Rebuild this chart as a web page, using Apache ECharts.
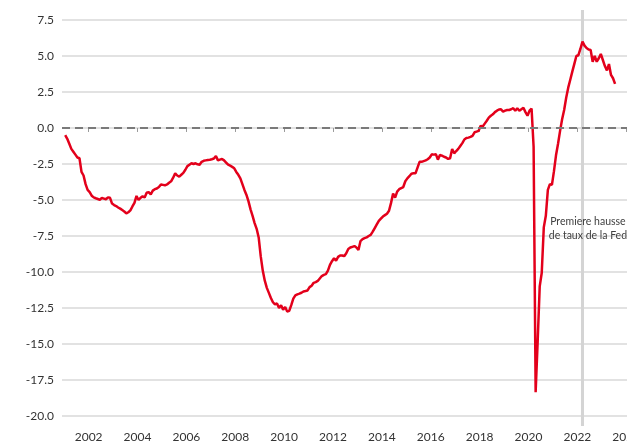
<!DOCTYPE html>
<html><head><meta charset="utf-8">
<script src="https://cdn.jsdelivr.net/npm/echarts@6/dist/echarts.min.js"></script>
<style>html,body{margin:0;padding:0;background:#fff}#c{width:627px;height:444px}</style>
</head><body><div id="c"></div>
<script>
// Monthly values, first point = January 2001
const startYear = 2001;
const y2001 = [-0.5, -0.75, -1.1, -1.45, -1.65, -1.85, -2.05, -2.1, -3.05, -3.3, -3.9, -4.3];
const y2002 = [-4.45, -4.7, -4.82, -4.88, -4.93, -4.98, -4.85, -4.9, -4.95, -4.82, -4.85, -5.25];
const y2003 = [-5.35, -5.42, -5.52, -5.6, -5.7, -5.8, -5.93, -5.85, -5.72, -5.45, -5.2, -4.72];
const y2004 = [-5.0, -4.85, -4.75, -4.82, -4.5, -4.45, -4.62, -4.35, -4.25, -4.2, -4.1, -3.92];
const y2005 = [-3.95, -3.98, -3.92, -3.8, -3.7, -3.45, -3.15, -3.3, -3.38, -3.25, -3.12, -2.9];
const y2006 = [-2.65, -2.55, -2.45, -2.5, -2.45, -2.52, -2.55, -2.35, -2.28, -2.25, -2.22, -2.2];
const y2007 = [-2.17, -2.12, -1.95, -2.25, -2.2, -2.15, -2.25, -2.4, -2.55, -2.62, -2.7, -2.8];
const y2008 = [-3.05, -3.25, -3.5, -3.9, -4.3, -4.65, -5.1, -5.65, -6.1, -6.6, -7.0, -7.6];
const y2009 = [-8.9, -9.9, -10.6, -11.1, -11.45, -11.8, -12.1, -12.25, -12.18, -12.5, -12.3, -12.62];
const y2010 = [-12.42, -12.75, -12.7, -12.3, -11.85, -11.62, -11.55, -11.5, -11.44, -11.35, -11.32, -11.28];
const y2011 = [-11.05, -10.95, -10.75, -10.7, -10.62, -10.45, -10.28, -10.2, -10.15, -9.9, -9.5, -9.25];
const y2012 = [-9.05, -9.22, -8.95, -8.85, -8.85, -8.9, -8.7, -8.4, -8.3, -8.25, -8.2, -8.3];
const y2013 = [-8.47, -7.85, -7.72, -7.65, -7.6, -7.5, -7.42, -7.2, -6.95, -6.7, -6.45, -6.3];
const y2014 = [-6.15, -6.05, -5.95, -5.75, -5.2, -4.55, -4.84, -4.42, -4.25, -4.17, -4.1, -3.7];
const y2015 = [-3.5, -3.35, -3.18, -3.15, -3.15, -2.75, -2.35, -2.35, -2.3, -2.25, -2.17, -2.05];
const y2016 = [-1.83, -1.85, -1.82, -2.2, -1.88, -1.92, -2.0, -2.05, -2.15, -2.1, -1.46, -1.76];
const y2017 = [-1.6, -1.45, -1.25, -1.05, -0.8, -0.7, -0.67, -0.62, -0.55, -0.3, -0.25, -0.2];
const y2018 = [0.15, 0.1, 0.3, 0.5, 0.72, 0.85, 0.95, 1.1, 1.2, 1.28, 1.3, 1.13];
const y2019 = [1.2, 1.25, 1.25, 1.3, 1.37, 1.2, 1.37, 1.2, 1.3, 1.4, 1.1, 0.85];
const y2020 = [1.2, 1.35, -1.3, -18.35, -14.8, -11.0, -10.05, -6.9, -6.1, -4.3, -3.9, -3.95];
const y2021 = [-3.0, -1.9, -1.1, -0.2, 0.6, 1.25, 2.1, 2.8, 3.35, 3.91, 4.45, 5.0];
const y2022 = [5.05, 5.5, 6.0, 5.72, 5.55, 5.45, 5.42, 4.6, 5.0, 4.6, 4.84, 5.14];
const y2023 = [4.72, 4.3, 4.0, 4.44, 3.68, 3.45, 3.06];

const xTicks = [2002, 2004, 2006, 2008, 2010, 2012, 2014, 2016, 2018, 2020, 2022, 2024];
const yTicks = [-20, -17.5, -15, -12.5, -10, -7.5, -5, -2.5, 0, 2.5, 5, 7.5];
const fedHikeDate = 2022 + 2.5 / 12; // March 2022
const fedLabel = 'Premiere hausse\nde taux de la Fed';

const values = [].concat(y2001, y2002, y2003, y2004, y2005, y2006, y2007, y2008, y2009, y2010,
  y2011, y2012, y2013, y2014, y2015, y2016, y2017, y2018, y2019, y2020, y2021, y2022, y2023);
const points = values.map((v, i) => [startYear + (i + 0.5) / 12, v]);

const X_MIN = 2000.91, X_MAX = 2024.03, Y_MIN = -20.69, Y_MAX = 8.19;
const font = 'Lato, "Open Sans", sans-serif';

const chart = echarts.init(document.getElementById('c'), null, { renderer: 'canvas' });
chart.setOption({
  animation: false,
  backgroundColor: '#ffffff',
  grid: { left: 62, right: 0, top: 10, bottom: 18, containLabel: false, outerBoundsMode: 'none' },
  xAxis: {
    type: 'value', min: X_MIN, max: X_MAX,
    axisLine: { show: false },
    axisTick: { show: true, length: 4, lineStyle: { color: '#9a9a9a', width: 1 }, customValues: xTicks },
    axisLabel: { customValues: xTicks, formatter: v => String(v), color: '#333333', fontFamily: font, fontSize: 12, margin: 5 },
    splitLine: { show: false }
  },
  yAxis: {
    type: 'value', min: Y_MIN, max: Y_MAX,
    axisLine: { show: false },
    axisTick: { show: false, customValues: yTicks },
    axisLabel: { customValues: yTicks, formatter: v => v.toFixed(1), color: '#333333', fontFamily: font, fontSize: 12, margin: 8 },
    splitLine: { show: true, lineStyle: { color: '#d9d9d9', width: 1.5 } }
  },
  series: [
    {
      type: 'line', silent: true, z: 1,
      data: [[fedHikeDate, Y_MIN], [fedHikeDate, Y_MAX]],
      symbol: 'none', lineStyle: { color: '#d4d4d4', width: 3 },
      emphasis: { disabled: true },
      markPoint: {
        silent: true, symbol: 'circle', symbolSize: 0,
        data: [{ coord: [2022.43, -6.97] }],
        label: { show: true, position: 'inside', formatter: fedLabel, color: '#404040', fontFamily: font, fontSize: 10.5, lineHeight: 13.5, align: 'center' }
      }
    },
    {
      type: 'line', z: 3, data: points, symbol: 'none', showSymbol: false,
      lineStyle: { color: '#e3001b', width: 2.5 },
      emphasis: { disabled: true },
      markLine: {
        silent: true, symbol: 'none', label: { show: false },
        lineStyle: { type: [8, 5], color: '#7a7a7a', width: 2 },
        data: [{ yAxis: 0 }]
      }
    }
  ]
});
</script></body></html>
